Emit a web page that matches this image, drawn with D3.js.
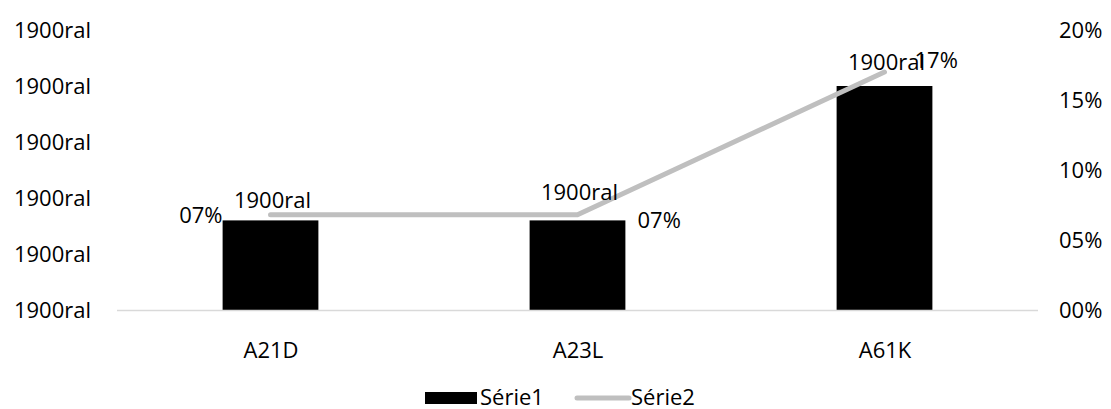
<!DOCTYPE html>
<html>
<head>
<meta charset="utf-8">
<script src="https://cdn.jsdelivr.net/npm/d3@7"></script>
<style>
  html, body { margin: 0; padding: 0; background: #fff; }
  svg text { font-family: "Open Sans", sans-serif; fill: #000; }
</style>
</head>
<body>
<svg id="chart" width="1111" height="409"></svg>
<script>
// Categories and the two series
const categories = ["A21D", "A23L", "A61K"];
const serie1 = [1.6, 1.6, 4.0];          // bars, left axis
const serie2 = [0.068, 0.068, 0.17];     // line, right axis (share)
const leftTicks = [0, 1, 2, 3, 4, 5];
const rightTicks = [0, 0.05, 0.10, 0.15, 0.20];
const seriesNames = ["Série1", "Série2"];
const leftLabel = "1900ral";             // date-formatted left axis value

const svg = d3.select("#chart");
const margin = { left: 117, right: 73, top: 30, bottom: 99 };
const W = 1111, H = 409;
const x0 = margin.left, x1 = W - margin.right;
const y0 = H - margin.bottom, y1 = margin.top;

const x = d3.scaleBand().domain(categories).range([x0, x1]).paddingInner(0.688).paddingOuter(0.344);
const xc = d3.scalePoint().domain(categories).range([x0, x1]).padding(0.5);
const yL = d3.scaleLinear().domain([0, 5]).range([y0, y1]);
const yR = d3.scaleLinear().domain([0, 0.20]).range([y0, y1]);

const fontSize = 22;
const fmtPct = v => d3.format("02d")(Math.round(v * 100)) + "%";

// Left axis
const leftAxis = d3.axisLeft(yL).tickValues(leftTicks).tickSize(0).tickPadding(0).tickFormat(() => leftLabel);
svg.append("g").attr("transform", `translate(${x0 - 26},0)`).call(leftAxis)
  .call(g => g.select(".domain").remove())
  .selectAll("text").attr("font-size", fontSize).attr("font-family", "Open Sans").attr("dy", "0.36em");

// Right axis
const rightAxis = d3.axisRight(yR).tickValues(rightTicks).tickSize(0).tickPadding(0).tickFormat(fmtPct);
svg.append("g").attr("transform", `translate(${x1 + 21},0)`).call(rightAxis)
  .call(g => g.select(".domain").remove())
  .selectAll("text").attr("font-size", fontSize).attr("font-family", "Open Sans").attr("dy", "0.36em");

// Bars
svg.append("g").selectAll("rect").data(categories).join("rect")
  .attr("x", d => x(d))
  .attr("width", x.bandwidth())
  .attr("y", (d, i) => yL(serie1[i]))
  .attr("height", (d, i) => y0 - yL(serie1[i]))
  .attr("fill", "#000");

// Baseline
svg.append("line").attr("x1", x0).attr("x2", x1).attr("y1", y0 + 0.5).attr("y2", y0 + 0.5)
  .attr("stroke", "#d9d9d9").attr("stroke-width", 1.5);

// Category axis
const bottomAxis = d3.axisBottom(xc).tickSize(0).tickPadding(0);
svg.append("g").attr("transform", `translate(0,${y0 + 40})`).call(bottomAxis)
  .call(g => g.select(".domain").remove())
  .selectAll("text").attr("font-size", fontSize).attr("font-family", "Open Sans").attr("dy", "0.36em");

// Line series
const line = d3.line().x((d, i) => xc(categories[i])).y(d => yR(d));
svg.append("path").datum(serie2).attr("d", line)
  .attr("fill", "none").attr("stroke", "#bfbfbf").attr("stroke-width", 5)
  .attr("stroke-linecap", "round").attr("stroke-linejoin", "round");

// Bar value labels
const barLabelLift = [12, 20, 16];
svg.append("g").selectAll("text").data(categories).join("text")
  .attr("x", d => xc(d) + 2)
  .attr("y", (d, i) => yL(serie1[i]) - barLabelLift[i])
  .attr("text-anchor", "middle")
  .attr("font-size", fontSize)
  .text(leftLabel);

// Line value labels
const lineLabelDx = [-48, 60, 30];
const lineLabelDy = [0, 5, -12];
svg.append("g").selectAll("text").data(serie2).join("text")
  .attr("x", (d, i) => xc(categories[i]) + lineLabelDx[i])
  .attr("y", (d, i) => yR(d) + lineLabelDy[i])
  .attr("dy", "0.36em")
  .attr("text-anchor", (d, i) => i === 0 ? "end" : "start")
  .attr("font-size", fontSize)
  .text(fmtPct);

// Legend
const lg = svg.append("g").attr("transform", "translate(425,398)");
lg.append("rect").attr("x", 0).attr("y", -6).attr("width", 52).attr("height", 12).attr("fill", "#000");
lg.append("text").attr("x", 55).attr("y", 0).attr("dy", "0.34em").attr("font-size", fontSize).text(seriesNames[0]);
lg.append("line").attr("x1", 152).attr("x2", 204).attr("y1", 0).attr("y2", 0)
  .attr("stroke", "#bfbfbf").attr("stroke-width", 5).attr("stroke-linecap", "round");
lg.append("text").attr("x", 206).attr("y", 0).attr("dy", "0.34em").attr("font-size", fontSize).text(seriesNames[1]);
</script>
</body>
</html>
